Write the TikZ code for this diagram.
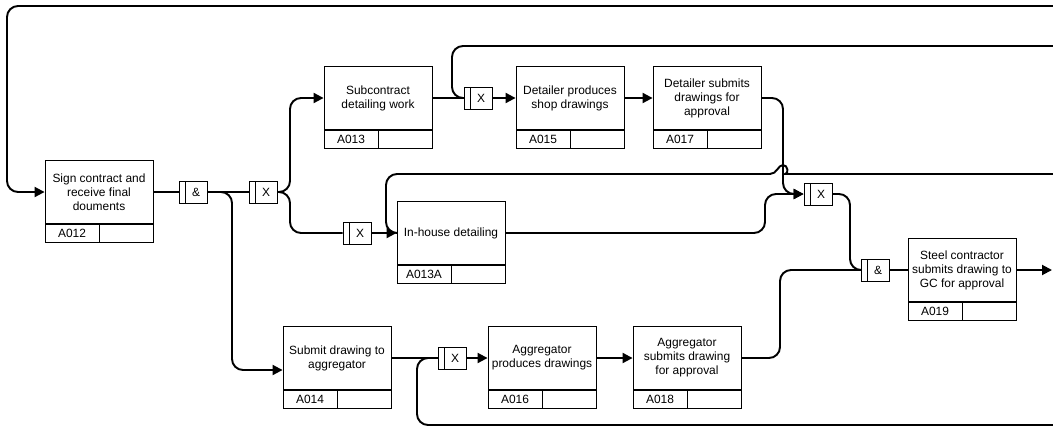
\documentclass[tikz,border=0pt]{standalone}
\usepackage{fontspec}
\setmainfont{Liberation Sans}
\usetikzlibrary{arrows.meta}

\tikzset{
  boxfont/.style={font=\fontsize{6.8}{8}\selectfont},
  actbox/.style={draw, line width=0.5pt, boxfont, align=center, inner sep=1pt,
    minimum width=2.16cm, minimum height=1.26cm},
  idcell/.style={draw, line width=0.5pt, boxfont, inner sep=0pt,
    minimum width=1.08cm, minimum height=0.36cm},
  junc/.style={draw, line width=0.5pt, boxfont, inner sep=0pt, fill=white,
    minimum width=0.56cm, minimum height=0.44cm,
    path picture={\draw[line width=0.5pt]
      ([xshift=0.12cm]path picture bounding box.north west) --
      ([xshift=0.12cm]path picture bounding box.south west);}},
  flow/.style={line width=1.1pt, rounded corners=0.22cm},
  arr/.style={-{Triangle[length=0.2cm,width=0.2cm]}}
}

\begin{document}
\begin{tikzpicture}[x={(0.02cm,0cm)}, y={(0cm,-0.02cm)}]

\useasboundingbox (0,0) rectangle (1053,426);

% Activity boxes with their number strip
\foreach \id/\px/\py/\txt in {
  A012/99/192/{Sign contract and\\receive final\\douments},
  A013/378/98/{Subcontract\\detailing work},
  A015/570/98/{Detailer produces\\shop drawings},
  A017/707/98/{Detailer submits\\drawings for\\approval},
  A013A/451/233/{In-house detailing},
  A019/962/270/{Steel contractor\\submits drawing to\\GC for approval},
  A014/337/358/{Submit drawing to\\aggregator},
  A016/542/358/{Aggregator\\produces drawings},
  A018/687/358/{Aggregator\\submits drawing\\for approval}} {
  \node[actbox] (\id) at (\px,\py) {\txt};
  \node[idcell, anchor=north west] (\id-num) at (\id.south west) {\id};
  \node[idcell, anchor=north east] (\id-blank) at (\id.south east) {};
}

% Junctions
\foreach \nm/\px/\py/\sym in {
  J1/193/192/\&, J2/263/192/X, J3/357/233/X, J4/478/98/X,
  J5/818/194/X, J6/875/270/\&, J7/452/358/X} {
  \node[junc] (\nm) at (\px,\py) {\hspace*{0.12cm}\sym};
}

% Free ends at the right border
\coordinate (inTop) at (1053,6);
\coordinate (inUpper) at (1053,46);
\coordinate (inMid) at (1053,174);
\coordinate (inLow) at (1053,425);
\coordinate (outGC) at (1052,270);

% Feedback loops coming in from the right
\draw[flow, arr] (inTop) -- (7,6) -- (7,192) -- (A012.west);
\draw[flow] (inUpper) -- (452,46) -- (452,98) -- (J4.west);
\draw[flow] (inMid) -- (796,174) [sharp corners]
  .. controls (789,174) and (788,165) .. (783,165)
  .. controls (778,165) and (777,174) .. (770,174)
  [rounded corners=0.22cm] -- (386,174) -- (386,233) -- (A013A.west);
\draw[flow] (inLow) -- (417,425) -- (417,358) -- (J7.west);

% Start and split
\draw[flow] (A012.east) -- (J1.west);
\draw[flow] (J1.east) -- (J2.west);
\draw[flow, arr] (J1.east) -- (232,192) -- (232,370) -- ([yshift=-0.24cm]A014.west);
\draw[flow, arr] (J2.east) -- (290,192) |- (A013.west);
\draw[flow] (J2.east) -- (290,192) |- (J3.west);
\draw[flow, arr] (J3.east) -- (A013A.west);

% Subcontract branch
\draw[flow] (A013.east) -- (J4.west);
\draw[flow, arr] (J4.east) -- (A015.west);
\draw[flow, arr] (A015.east) -- (A017.west);
\draw[flow, arr] (A017.east) -- (783,98) -- (783,194) -- (J5.west);
\draw[flow, arr] (A013A.east) -- (765,233) -- (765,194) -- (J5.west);

% Aggregator branch
\draw[flow] (A014.east) -- (J7.west);
\draw[flow, arr] (J7.east) -- (A016.west);
\draw[flow, arr] (A016.east) -- (A018.west);

% Join and output
\draw[flow] (J5.east) -- (850,194) |- (J6.west);
\draw[flow] (A018.east) -- (780,358) |- (J6.west);
\draw[flow] (J6.east) -- (A019.west);
\draw[flow, arr] (A019.east) -- (outGC);

\end{tikzpicture}
\end{document}
